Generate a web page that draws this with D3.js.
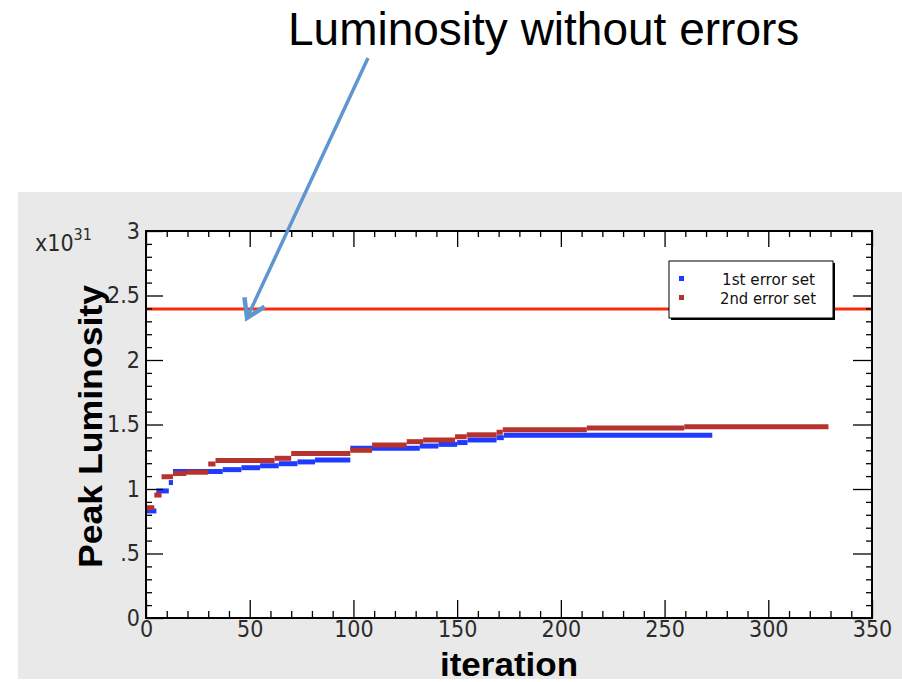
<!DOCTYPE html>
<html>
<head>
<meta charset="utf-8">
<script src="https://cdn.jsdelivr.net/npm/d3@7/dist/d3.min.js"></script>
<style>
  body { margin: 0; background: #fff; }
  svg { display: block; }
</style>
</head>
<body>
<svg></svg>
<script>
// оси
const xTickValues = [0, 50, 100, 150, 200, 250, 300, 350];
const xTickLabels = ["0", "50", "100", "150", "200", "250", "300", "350"];
const yTickValues = [0, 0.5, 1, 1.5, 2, 2.5, 3];
const yTickLabels = ["0", ".5", "1", "1.5", "2", "2.5", "3"];

// 1st error set: начало ступеньки (iteration) и значение (x10^31)
const blueStart = [0, 5, 11, 13, 37, 46, 55, 64, 73, 81.5, 98.5, 132, 141, 150, 155, 169, 172.5];
const blueValue = [0.83, 0.985, 1.05, 1.135, 1.15, 1.165, 1.18, 1.196, 1.21, 1.225, 1.315, 1.333, 1.346, 1.36, 1.38, 1.398, 1.417];
const blueEnd = 273;

// 2nd error set
const redStart = [0, 4, 7.5, 13, 19.5, 30, 33.5, 62, 70, 98.5, 109, 125.7, 133.6, 149, 154.6, 169, 172, 212.5, 259.5];
const redValue = [0.855, 0.953, 1.095, 1.12, 1.13, 1.194, 1.22, 1.238, 1.275, 1.30, 1.341, 1.367, 1.38, 1.405, 1.42, 1.44, 1.46, 1.473, 1.483];
const redEnd = 329;

// светимость без ошибок
const noErrorLumi = 2.395;

const seriesNames = ["1st error set", "2nd error set"];
const seriesColors = ["#1f3bff", "#b8322d"];

const width = 902, height = 682;
const plot = { left: 146, right: 872, top: 231, bottom: 618 };

const svg = d3.select("svg").attr("width", width).attr("height", height);
const font = "'Liberation Sans', Arial, Helvetica, sans-serif";
const narrow = "'Liberation Sans Narrow', 'Arial Narrow', 'DejaVu Sans Condensed', sans-serif";

// серая подложка
svg.append("rect")
  .attr("x", 18).attr("y", 192)
  .attr("width", width - 18).attr("height", 679 - 192)
  .attr("fill", "#e9e9e9");

svg.append("rect")
  .attr("x", plot.left).attr("y", plot.top)
  .attr("width", plot.right - plot.left).attr("height", plot.bottom - plot.top)
  .attr("fill", "#fff");

const x = d3.scaleLinear().domain([0, 350]).range([plot.left, plot.right]);
const y = d3.scaleLinear().domain([0, 3]).range([plot.bottom, plot.top]);

const xMinor = d3.range(0, 351, 10).filter(v => v % 50 !== 0);
const yMinor = d3.range(0, 31, 1).map(v => v / 10).filter((v, i) => i % 5 !== 0);

// ступеньки
function drawSteps(start, value, end, color) {
  const segs = start.map((s, i) => ({ x1: s, x2: i < start.length - 1 ? start[i + 1] : end, v: value[i] }));
  svg.append("g").selectAll("line").data(segs).join("line")
    .attr("x1", d => x(d.x1)).attr("x2", d => x(d.x2))
    .attr("y1", d => y(d.v)).attr("y2", d => y(d.v))
    .attr("stroke", color).attr("stroke-width", 5);
}
drawSteps(blueStart, blueValue, blueEnd, seriesColors[0]);
drawSteps(redStart, redValue, redEnd, seriesColors[1]);

// линия без ошибок
svg.append("line")
  .attr("x1", x(0)).attr("x2", x(350))
  .attr("y1", y(noErrorLumi)).attr("y2", y(noErrorLumi))
  .attr("stroke", "#fb2a0c").attr("stroke-width", 3);

// оси с тиками внутрь
function styleAxis(g) {
  g.selectAll(".domain").remove();
  g.selectAll(".tick line").attr("stroke", "#000").attr("stroke-width", 1.3);
  g.selectAll("text").attr("font-family", narrow).attr("font-size", 23).attr("fill", "#2b2b2b");
}

svg.append("g").attr("transform", `translate(0,${plot.bottom})`)
  .call(d3.axisBottom(x).tickValues(xTickValues).tickFormat((d, i) => xTickLabels[i]).tickSize(-18).tickPadding(3))
  .call(styleAxis);
svg.append("g").attr("transform", `translate(0,${plot.bottom})`)
  .call(d3.axisBottom(x).tickValues(xMinor).tickFormat("").tickSize(-7))
  .call(styleAxis);
svg.append("g").attr("transform", `translate(0,${plot.top})`)
  .call(d3.axisTop(x).tickValues(xTickValues).tickFormat("").tickSize(-16))
  .call(styleAxis);
svg.append("g").attr("transform", `translate(0,${plot.top})`)
  .call(d3.axisTop(x).tickValues(xMinor).tickFormat("").tickSize(-6))
  .call(styleAxis);

svg.append("g").attr("transform", `translate(${plot.left},0)`)
  .call(d3.axisLeft(y).tickValues(yTickValues).tickFormat((d, i) => yTickLabels[i]).tickSize(-17).tickPadding(6))
  .call(styleAxis);
svg.append("g").attr("transform", `translate(${plot.left},0)`)
  .call(d3.axisLeft(y).tickValues(yMinor).tickFormat("").tickSize(-6))
  .call(styleAxis);
svg.append("g").attr("transform", `translate(${plot.right},0)`)
  .call(d3.axisRight(y).tickValues(yTickValues).tickFormat("").tickSize(-19))
  .call(styleAxis);
svg.append("g").attr("transform", `translate(${plot.right},0)`)
  .call(d3.axisRight(y).tickValues(yMinor).tickFormat("").tickSize(-6))
  .call(styleAxis);

// рамка
svg.append("rect")
  .attr("x", plot.left).attr("y", plot.top)
  .attr("width", plot.right - plot.left).attr("height", plot.bottom - plot.top)
  .attr("fill", "none").attr("stroke", "#000").attr("stroke-width", 2);

// множитель
const mult = svg.append("text").attr("x", 35).attr("y", 251)
  .attr("font-family", narrow).attr("font-size", 23).attr("fill", "#2b2b2b");
mult.append("tspan").text("x10");
mult.append("tspan").attr("dy", -11).attr("font-size", 16).text("31");

// подписи осей
svg.append("text")
  .attr("transform", `translate(102,${(plot.top + plot.bottom) / 2 + 2}) rotate(-90)`)
  .attr("text-anchor", "middle")
  .attr("font-family", font).attr("font-size", 34).attr("font-weight", "bold")
  .attr("textLength", 283).attr("lengthAdjust", "spacingAndGlyphs")
  .text("Peak Luminosity");

svg.append("text")
  .attr("x", 509).attr("y", 676)
  .attr("text-anchor", "middle")
  .attr("font-family", font).attr("font-size", 34).attr("font-weight", "bold")
  .attr("textLength", 138).attr("lengthAdjust", "spacingAndGlyphs")
  .text("iteration");

// легенда
const lg = svg.append("g").attr("transform", "translate(669,261)");
lg.append("rect").attr("x", 2).attr("y", 2).attr("width", 164).attr("height", 57).attr("fill", "#000");
lg.append("rect").attr("width", 164).attr("height", 57).attr("fill", "#fff").attr("stroke", "#000").attr("stroke-width", 1);
seriesNames.forEach((name, i) => {
  lg.append("rect").attr("x", 10).attr("y", 15 + i * 19).attr("width", 5).attr("height", 5).attr("fill", seriesColors[i]);
  lg.append("text").attr("x", 53 - i * 2).attr("y", 24 + i * 19)
    .attr("font-family", narrow).attr("font-size", 16).attr("fill", "#111")
    .attr("textLength", 93 + i * 3).attr("lengthAdjust", "spacingAndGlyphs")
    .text(name);
});

// заголовок-аннотация и стрелка
svg.append("text")
  .attr("x", 288).attr("y", 45)
  .attr("font-family", font).attr("font-size", 46).attr("fill", "#000")
  .text("Luminosity without errors");

const tip = [247, 318], tail = [368, 58];
const ang = Math.atan2(tail[1] - tip[1], tail[0] - tip[0]);
const armLen = 21, spread = 32 * Math.PI / 180;
const arm1 = [tip[0] + armLen * Math.cos(ang - spread), tip[1] + armLen * Math.sin(ang - spread)];
const arm2 = [tip[0] + armLen * Math.cos(ang + spread), tip[1] + armLen * Math.sin(ang + spread)];
svg.append("line")
  .attr("x1", tail[0]).attr("y1", tail[1]).attr("x2", tip[0]).attr("y2", tip[1])
  .attr("stroke", "#5f96d0").attr("stroke-width", 3.5);
svg.append("path")
  .attr("d", d3.line()([arm1, tip, arm2]))
  .attr("fill", "none").attr("stroke", "#5f96d0").attr("stroke-width", 4.5)
  .attr("stroke-linejoin", "miter");
</script>
</body>
</html>
